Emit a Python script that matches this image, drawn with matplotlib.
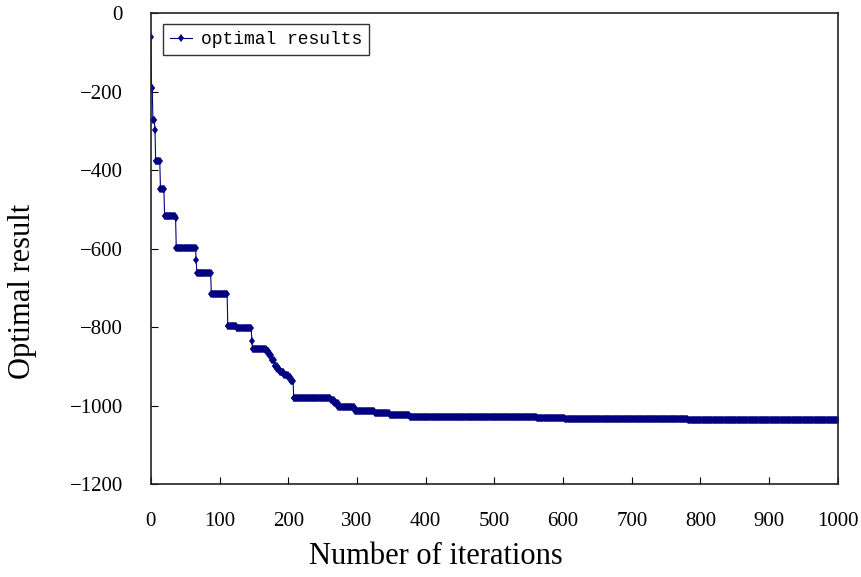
import numpy as np
import matplotlib.pyplot as plt

# best-so-far result: each plateau starts at an iteration and keeps its value
plateau_start = [0, 1, 3, 6, 7, 14, 20, 36, 37, 66, 67, 88, 112, 125, 147, 148,
                 168, 172, 176, 180, 184, 188, 194, 200, 204, 208, 262, 267,
                 273, 297, 326, 348, 377, 406, 562, 603, 782]
plateau_value = [-60, -190, -272, -298, -378, -448, -516, -522, -598, -628, -662,
                 -715, -797, -802, -835, -855, -862, -872, -885, -900, -908,
                 -915, -922, -928, -938, -980, -986, -993, -1004, -1015, -1020,
                 -1025, -1028, -1030, -1032, -1035, -1036]
last_iter = 1000

# expand plateaus to one value per iteration
lengths = np.diff(plateau_start + [last_iter + 1])
iters = np.arange(last_iter + 1)
results = np.repeat(plateau_value, lengths)

fig = plt.figure(figsize=(8.62, 5.77), dpi=100)
ax = fig.add_axes([0.175, 0.161, 0.797, 0.8165])

ax.plot(iters, results, color="#000080", lw=0.8, marker="d", ms=4.3,
        mew=0, label="optimal results")

ax.set_xlim(0, 1000)
ax.set_ylim(-1200, 0)
ax.set_xticks(np.arange(0, 1001, 100))
ax.set_yticks(np.arange(-1200, 1, 200))

ax.tick_params(axis="x", direction="in", length=5, pad=20, labelsize=15,
               top=False)
ax.tick_params(axis="y", direction="in", length=5, pad=20, labelsize=15,
               right=False)
for lab in ax.get_xticklabels() + ax.get_yticklabels():
    lab.set_family("Liberation Serif")

for s in ax.spines.values():
    s.set_linewidth(1.2)
    s.set_color("#222222")

ax.set_xlabel("Number of iterations", family="Liberation Serif", fontsize=22)
ax.set_ylabel("Optimal result", family="Liberation Serif", fontsize=22)
ax.xaxis.set_label_coords(0.415, -0.122)
ax.yaxis.set_label_coords(-0.166, 0.41)

leg = ax.legend(loc="upper left", bbox_to_anchor=(0.0175, 0.977),
                borderaxespad=0, fancybox=False, edgecolor="black",
                handlelength=1.2, handletextpad=0.5, borderpad=0.4,
                prop={"family": "Liberation Mono", "size": 13})
leg.get_frame().set_linewidth(1.0)

fig.savefig("out.png", dpi=100)
